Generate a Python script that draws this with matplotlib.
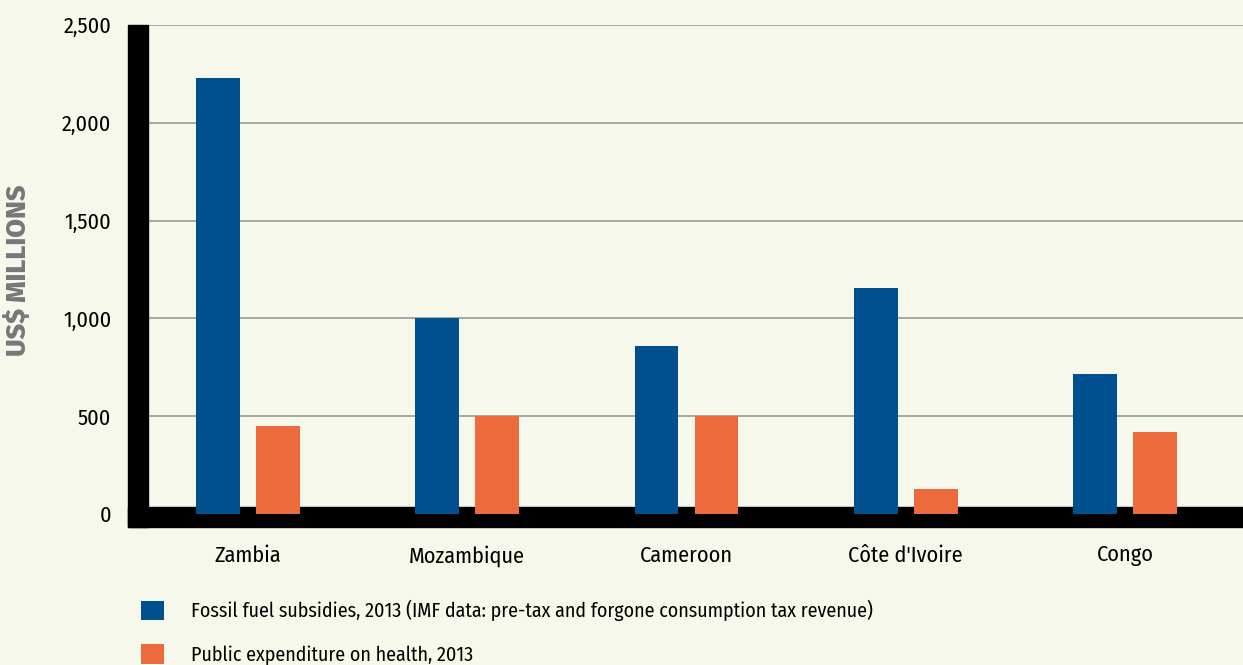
import numpy as np
import matplotlib
matplotlib.use("Agg")
import matplotlib.pyplot as plt
from matplotlib.patches import Rectangle
from matplotlib.ticker import FuncFormatter

countries = ["Zambia", "Mozambique", "Cameroon", "Côte d'Ivoire", "Congo"]
fossil = [2230, 1000, 860, 1155, 715]
health = [450, 500, 500, 125, 420]
labels = ["Fossil fuel subsidies, 2013 (IMF data: pre-tax and forgone consumption tax revenue)",
          "Public expenditure on health, 2013"]

BG = "#F7F8EC"
C = {"fossil": "#00508F", "health": "#EC6A3C"}
FONT = ["Fira Sans Condensed", "PT Sans Narrow", "Roboto Condensed", "DejaVu Sans"]

plt.rcParams.update({"font.family": FONT, "font.size": 15})

W, H = 1243, 665
fig = plt.figure(figsize=(W / 100, H / 100), dpi=100, facecolor=BG)
ax = fig.add_axes([128 / W, 1 - 527 / H, 1 - 128 / W, (527 - 25) / H])
ax.set_facecolor(BG)

x = np.arange(len(countries))
w = 0.2
ax.bar(x - 0.137, fossil, w, color=C["fossil"], zorder=3, label=labels[0])
ax.bar(x + 0.137, health, w, color=C["health"], zorder=3, label=labels[1])

ax.set_xlim(-0.547, 4.538)
ax.set_ylim(-67, 2500)
ax.set_yticks([0, 500, 1000, 1500, 2000, 2500])
ax.yaxis.set_major_formatter(FuncFormatter(lambda v, p: f"{int(v):,}"))
ax.set_xticks(x)
ax.set_xticklabels(countries)
ax.tick_params(axis="both", length=0, labelsize=16)
ax.tick_params(axis="y", pad=12)
ax.tick_params(axis="x", pad=13)
for s in ax.spines.values():
    s.set_visible(False)
ax.yaxis.grid(True, color="#9A9A9A", lw=1.2, zorder=1)
ax.set_axisbelow(True)

# thick black axis bars
ax.add_patch(Rectangle((0, 0), 20 / (W - 128), 1, transform=ax.transAxes,
                       color="black", zorder=2, clip_on=False))
ax.add_patch(Rectangle((0, 0), 1, 20 / (527 - 25), transform=ax.transAxes,
                       color="black", zorder=2, clip_on=False))

fig.text(18 / W, 1 - 270 / H, "US$ MILLIONS", rotation=90, ha="center", va="center",
         color="#777777", fontsize=19.5, fontweight="heavy",
         family=["Fira Sans", "Open Sans", "DejaVu Sans"])

fig.legend(loc="upper left", bbox_to_anchor=(133 / W, 1 - 592 / H), frameon=False,
           handlelength=1.15, handleheight=1.15, handletextpad=1.35, labelspacing=1.15,
           fontsize=14.4, borderaxespad=0)

fig.savefig("out.png", dpi=100, facecolor=BG)
